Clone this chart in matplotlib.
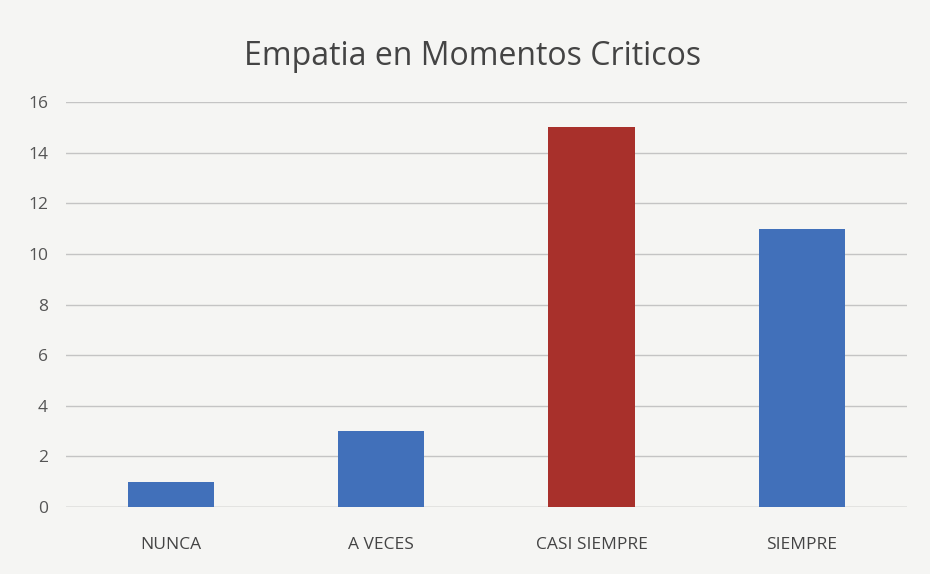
import matplotlib
matplotlib.use("Agg")
import matplotlib.pyplot as plt

categories = ["NUNCA", "A VECES", "CASI SIEMPRE", "SIEMPRE"]
values = [1, 3, 15, 11]
colors = ["#4170BA", "#4170BA", "#A8302B", "#4170BA"]
yticks = [0, 2, 4, 6, 8, 10, 12, 14, 16]

plt.rcParams['font.family'] = ['Open Sans', 'DejaVu Sans']
bg = "#F5F5F3"
fig = plt.figure(figsize=(9.3, 5.74), dpi=100, facecolor=bg)
ax = fig.add_axes([0.071, 0.117, 0.904, 0.705], facecolor=bg)

ax.bar(range(len(categories)), values, width=0.41, color=colors, zorder=3)
ax.set_ylim(0, 16)
ax.set_xlim(-0.5, len(categories) - 0.5)
ax.set_yticks(yticks)
ax.set_yticklabels([str(v) for v in yticks], fontsize=12.5, color="#555555")
ax.set_xticks(range(len(categories)))
ax.set_xticklabels(categories, fontsize=12.5, color="#444444")
ax.tick_params(axis='y', length=0, pad=13)
ax.tick_params(axis='x', length=0, pad=22)
ax.grid(axis='y', color="#C4C4C4", linewidth=1, zorder=0)
for s in ax.spines.values():
    s.set_visible(False)
ax.axhline(0, color="#C4C4C4", linewidth=1, zorder=2)

fig.text(0.508, 0.902, "Empatia en Momentos Criticos", ha='center', va='center',
         fontsize=23, color="#444444")

fig.savefig("out.png", dpi=100, facecolor=bg)
